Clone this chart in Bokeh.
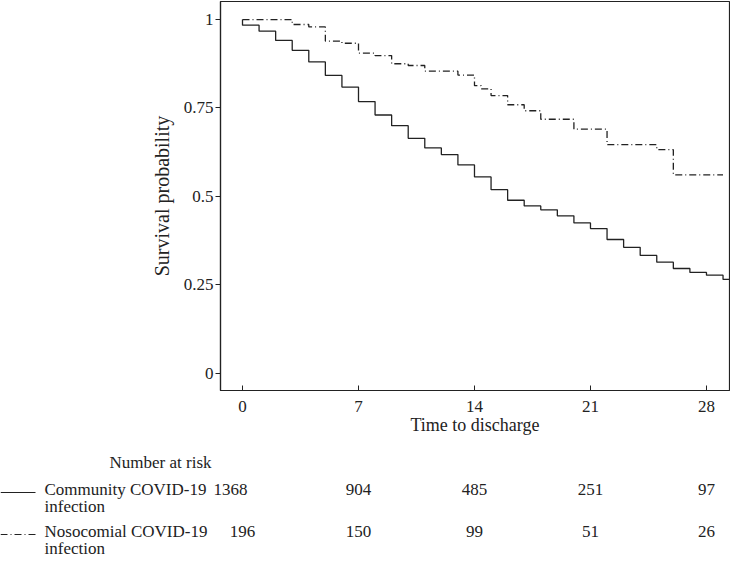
from bokeh.plotting import figure
from bokeh.models import Range1d, FixedTicker
from bokeh.layouts import column
from bokeh.embed import file_html
from bokeh.resources import INLINE
from bokeh.core.properties import value

# ---------------- data ----------------
community_time = [0, 0, 1, 2, 3, 4, 5, 6, 7, 8, 9, 10, 11, 12, 13, 14, 15, 16, 17,
                  18, 19, 20, 21, 22, 23, 24, 25, 26, 27, 28, 29, 29.5]
community_surv = [1.0, 0.984, 0.967, 0.941, 0.913, 0.880, 0.842, 0.809, 0.768, 0.730,
                  0.700, 0.664, 0.637, 0.618, 0.589, 0.555, 0.519, 0.489, 0.473, 0.462,
                  0.445, 0.425, 0.409, 0.378, 0.356, 0.333, 0.314, 0.296, 0.285, 0.277,
                  0.265, 0.265]

nosocomial_time = [0, 3, 4, 5, 6, 7, 8, 9, 10, 11, 13, 14, 14.4, 15, 16, 17, 18, 20,
                   22, 25, 26, 29]
nosocomial_surv = [1.0, 0.986, 0.979, 0.939, 0.933, 0.905, 0.898, 0.875, 0.870, 0.854,
                   0.843, 0.813, 0.804, 0.785, 0.759, 0.742, 0.718, 0.690, 0.646, 0.632,
                   0.561, 0.561]

x_ticks = [0, 7, 14, 21, 28]
y_ticks = [0, 0.25, 0.5, 0.75, 1]
y_tick_labels = ["0", "0.25", "0.5", "0.75", "1"]

risk_times = [0, 7, 14, 21, 28]
risk_community = [1368, 904, 485, 251, 97]
risk_nosocomial = [196, 150, 99, 51, 26]
group_label_lines = [["Community COVID-19", "infection"],
                     ["Nosocomial COVID-19", "infection"]]

# ---------------- style / geometry ----------------
FONT = "Liberation Serif"
INK = "#222222"
FS = "17px"
W, H = 730, 560
FRAME_L, FRAME_R = 220, 1
FRAME_W = W - FRAME_L - FRAME_R
FRAME_T, FRAME_H, BORDER_B = 1, 389, 46
TOP_H = FRAME_T + FRAME_H + BORDER_B
TABLE_H = H - TOP_H
X0, X1 = -1.328, 29.39
Y0, Y1 = -0.049, 1.051
DASHDOT = "7 3 1 3"

p = figure(frame_width=FRAME_W, frame_height=FRAME_H,
           min_border_left=FRAME_L, min_border_right=FRAME_R,
           min_border_top=FRAME_T, min_border_bottom=BORDER_B,
           x_range=Range1d(X0, X1), y_range=Range1d(Y0, Y1),
           output_backend="svg", toolbar_location=None)
p.frame_align = False

p.step(community_time, community_surv, mode="after", line_color=INK, line_width=1.3)
p.step(nosocomial_time, nosocomial_surv, mode="after", line_color=INK, line_width=1.3,
       line_dash=DASHDOT)

p.xgrid.visible = False
p.ygrid.visible = False
p.outline_line_color = INK
p.outline_line_width = 1.2

p.xaxis.ticker = FixedTicker(ticks=x_ticks)
p.yaxis.ticker = FixedTicker(ticks=y_ticks)
p.yaxis.major_label_overrides = {t: s for t, s in zip(y_ticks, y_tick_labels)}
p.xaxis.axis_label = "Time to discharge"
p.yaxis.axis_label = "Survival probability"
for ax in (p.xaxis[0], p.yaxis[0]):
    ax.axis_line_color = INK
    ax.axis_line_width = 1.2
    ax.major_tick_line_color = INK
    ax.minor_tick_line_color = None
    ax.major_label_text_font = FONT
    ax.major_label_text_font_size = FS
    ax.major_label_text_color = INK
    ax.axis_label_text_font = FONT
    ax.axis_label_text_font_style = "normal"
    ax.axis_label_text_color = INK
p.xaxis.axis_label_text_font_size = "18px"
p.yaxis.axis_label_text_font_size = "20px"
p.xaxis.major_tick_in = 5
p.xaxis.major_tick_out = 0
p.xaxis.major_label_standoff = 10
p.xaxis.axis_label_standoff = 0
p.yaxis.major_tick_in = 0
p.yaxis.major_tick_out = 5
p.yaxis.major_label_standoff = 2
p.yaxis.axis_label_standoff = 8

# ---------------- risk table (same day scale, full-width frame) ----------------
ppd = FRAME_W / (X1 - X0)
TX0 = X0 - FRAME_L / ppd
TX1 = TX0 + W / ppd


def px(page_x):
    # page x position -> day units of the shared x scale
    return TX0 + page_x / ppd


t = figure(frame_width=W, frame_height=TABLE_H, min_border=0,
           x_range=Range1d(TX0, TX1), y_range=Range1d(TOP_H + TABLE_H, TOP_H),
           output_backend="svg", toolbar_location=None)
t.frame_align = False
t.axis.visible = False
t.grid.visible = False
t.outline_line_color = None

ROW_Y = [488, 530]
LINE2 = 17
FIRST_COL_SHIFT = [[-12, 0, 0, 0, 0], [0, 0, 0, 0, 0]]

txt = dict(text_font=value(FONT), text_font_size=FS, text_color=INK,
           text_baseline="middle")
t.text(x=[px(211)], y=[461], text=["Number at risk"], text_align="right", **txt)

for row, (lines, counts, dash) in enumerate(zip(group_label_lines,
                                                 [risk_community, risk_nosocomial],
                                                 [None, DASHDOT])):
    y = ROW_Y[row]
    t.text(x=[px(44)] * len(lines), y=[y + k * LINE2 for k in range(len(lines))],
           text=lines, text_align="left", **txt)
    t.text(x=risk_times, y=[y] * len(risk_times), text=[str(c) for c in counts],
           x_offset=FIRST_COL_SHIFT[row], text_align="center", **txt)
    seg_kw = dict(line_color=INK, line_width=1.2)
    if dash:
        seg_kw["line_dash"] = dash
    t.segment(x0=[px(0)], x1=[px(35)], y0=[y + 3], y1=[y + 3], **seg_kw)

layout = column(p, t, spacing=0)
open("out.html", "w").write(file_html(layout, INLINE))
